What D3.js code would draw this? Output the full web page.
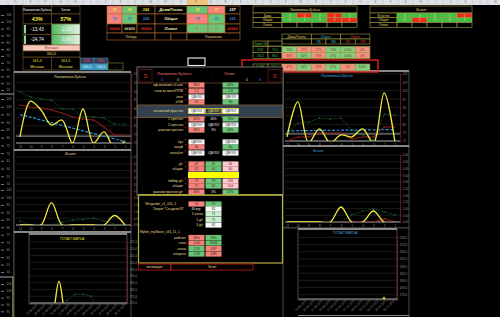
<!DOCTYPE html>
<html>
<head>
<meta charset="utf-8">
<script src="https://cdn.jsdelivr.net/npm/d3@7"></script>
<style>
  html, body { margin: 0; padding: 0; background: #000; overflow: hidden; }
  svg { display: block; }
  text { font-family: "Liberation Sans", Arial, sans-serif; }
</style>
</head>
<body>
<div id="chart"></div>
<script>
// ---------- chart data ----------
var rounds = ["11", "10", "9", "8", "7", "6", "5", "4", "3", "2", "1"];
var matchDates = ["13.08.2011", "20.08.2011", "27.08.2011", "10.09.2011", "17.09.2011", "24.09.2011",
                  "01.10.2011", "08.10.2011", "15.10.2011", "22.10.2011", "29.10.2011", "05.11.2011"];

var leftLokGoals = [75.5, 96.3, 91.1, 82.4, 85.3, 72, 91.7, 72, 78.4, 69.1, 73.2];
var leftLokTotal = [101.6, 98.7, 97.5, 96.9, 91.7, 91.7, 87.1, 87.1, 86.5, 83, 83];
var leftLokAvg = [94, 92.9, 92.3, 91.1, 89.4, 87.1, 85.9, 85.3, 81.3, 76.6, 76.6];
var leftLokLine = 76;

var leftZenGoals = [0, 0, 0, 1.65, 0, 0, 0, 0, 0, 0.7, 0];
var leftZenTotal = [0.3, 0, 0, 0, 0.2, 0.35, 0.4, 0.5, 0.3, 0.05, 0];

var leftTotalGoals = [160, 160, 160, 186, 160, 160, 160, 160, 160, 160, 160, 160];
var leftTotalAvg = [160, 160, 160, 160, 172, 176.5, 176.5, 175, 165, 160, 160, 160];

var rightLokGoals = [74.4, 95.3, 71, 79.2, 71, 75.6, 74.4, 79.2, 71, 100.7, 71];
var rightLokTotal = [76, 82.7, 83.3, 85.7, 85.1, 85.7, 78.6, 75.6, 72.6, 88.1, 87.5];
var rightLokAvg = [72, 74.4, 74.4, 76.8, 76.8, 76.8, 73.2, 74.4, 74.4, 80.4, 80.4];
var rightLokLine = 76.2;

var rightZenGoals = [0, 0, 0, 0, 0, 1.12, 0, 0, 0.82, 0, 0];
var rightZenTotal = [0, 0, 0, 0, 0, 0, 0.55, 0.8, 0.97, 0.75, 0.52];
var rightZenAvg = [0, 0, 0, 0, 0, 0, 0, 0, 0, 0.25, 0];

var rightTotalGoals = [null, null, null, null, null, null, null, null, null, null, 175, null];

var lokTicks = [72, 77, 82, 87, 92, 97, 102, 107, 112];
var zenTicks = [0, 0.5, 1, 1.5, 2, 2.5, 3, 3.5, 4, 4.5, 5];
var leftTotalTicks = [170, 175, 180, 185, 190, 195, 200, 205, 210, 215];
var rightTotalTicks = [178, 183, 188, 193, 198, 203, 208, 213, 218];
var stripTicks = [105, 100, 95, 90, 85, 80, 75, 70, 65, 60, 55, 50];

// ---------- table data ----------
var teams = ["Локомотив-Кубань", "Зенит"];
var winShare = ["43%", "57%"];
var ratingA = ["-13,43", "-2,29"];
var ratingB = ["-24,74", "-3,99"];
var totalVerdict = "Меньше";
var totalLine = "161,5";
var teamTotals = ["161,5", "161,5"];
var teamVerdicts = ["Меньше", "Меньше"];
var smallShares = ["50%", "50%"];
var smallTotals = ["161,5", "161,5"];

var pointsRows = ["Дома/Гости", "Общие", "Очные"];
var pointsLok = [["78", "82", "162"], ["78", "82", "164"], ["#####", "#####", "#####"]];
var pointsZen = [["82", "77", "157"], ["78", "80", "163"], ["0", "0", "#####"]];
var pointsFoot = ["Победа", "Поражение"];

var formRowsLok = ["Дома", "Общие", "Очные"];
var formLok = [[3, 0, 3, 0, 3], [3, 3, 3, 0, 0], []];
var formRowsZen = ["В гостях", "Общие", "Очные"];
var formZen = [[3, 3, 3, 3, 0], [3, 0, 3, 3, 3], []];

var shareGroups = ["Дома/Гости", "Общие", "Очные"];
var shareSub = ["ПБ", "ПМ", "ПБ", "ПМ"];
var seasons = ["2011", "2012", "TOTAL"];
var seasonLines = ["75,5", "88,5", "151,5"];
var seasonShares = [["73%", "27%", "27%", "73%", "100%", "0%"],
                    ["40%", "60%", "33%", "67%", "100%", "0%"],
                    ["47%", "53%", "33%", "67%", "0%", "100%"]];

var headerCounts = ["8", "0", "0", "8"];
var statRows = [
  ["кф-величия-сб-клб", "36%", "", "64%"],
  ["очки за матч/ППМ", "1,1", "", "1,8"],
  ["элко", "#ДЕЛ/0!", "", "#ДЕЛ/0!"],
  ["xG/B", "75", "", "80"],
  ["основной прогноз", "#ДЕЛ/0!", "#ДЕЛ/0!", "#ДЕЛ/0!"],
  ["1 прогноз", "40%", "34%", "74%"],
  ["2 прогноз", "#ДЕЛ/0!", "#ДЕЛ/0!", "#ДЕЛ/0!"],
  ["равном прогноз", "36%", "3%", "64%"],
  ["бук", "#ДЕЛ/0!", "", "#ДЕЛ/0!"],
  ["калуй", "40", "", "60"],
  ["матчбет", "#ДЕЛ/0!", "#ДЕЛ/0!", "#ДЕЛ/0!"],
  ["д/г", "41", "42", "61"],
  ["общие", "42", "40", "60"],
  ["bdtbqt д/г", "73", "79", "149"],
  ["общие", "72", "82", "154"],
  ["равном прогноз д/г", "36%", "3%", "67%"]
];
var modelNames = ["Wingardet_v1_010_1", "Mybet_mySkore_v16_11_1"];
var wingMain = ["55", "57"];
var wingSubLabels = ["Тоорит \"Сендеил19\"", "3 очков", "1 д/г", "3 д/г"];
var wingSubValues = ["82", "71", "71", "82"];
var wingGames = "40 игр";
var mybetLabels = ["рейтинг", "голы", "атака", "оборона"];
var mybetLok = ["18%", "-0,50", "1,13", "1,03"];
var mybetZen = ["25%", "13,65", "0,87", "0,89"];
var footer = ["мотивация", "Зенит"];

// ---------- helpers ----------
var RED = "#f4837b", GREEN = "#6cc477", PINK = "#ffc7ce", LGREEN = "#c6efce";
var svg = d3.select("#chart").append("svg").attr("width", 500).attr("height", 317);
svg.append("rect").attr("width", 500).attr("height", 317).attr("fill", "#000");

function num(t) { return parseFloat(String(t).replace(",", ".").replace("%", "")); }

function addText(g, x, y, t, o) {
  o = o || {};
  return g.append("text").attr("x", x).attr("y", y).text(t)
    .attr("font-size", o.size || 4)
    .attr("fill", o.fill || "#fff")
    .attr("text-anchor", o.anchor || "middle")
    .attr("dominant-baseline", "central")
    .attr("font-weight", o.bold ? "bold" : null)
    .attr("font-style", o.italic ? "italic" : null);
}

function addCell(g, x, y, w, h, t, fill, color, o) {
  o = o || {};
  g.append("rect").attr("x", x).attr("y", y).attr("width", w).attr("height", h)
    .attr("fill", fill).attr("stroke", o.stroke || "none").attr("stroke-width", o.sw || 0.6);
  if (t !== undefined && t !== null && t !== "")
    addText(g, x + w / 2, y + h / 2 + 0.2, t, { size: o.size, fill: color, bold: o.bold, italic: o.italic });
}

function trend(vals) {
  var xs = d3.range(vals.length);
  var mx = d3.mean(xs), my = d3.mean(vals);
  var b = d3.sum(xs, function(i) { return (i - mx) * (vals[i] - my); }) /
          d3.sum(xs, function(i) { return (i - mx) * (i - mx); });
  return xs.map(function(i) { return my + b * (i - mx); });
}

var clipId = 0;
function lineChart(c) {
  var g = svg.append("g");
  g.append("rect").attr("x", c.box[0]).attr("y", c.box[1]).attr("width", c.box[2]).attr("height", c.box[3])
    .attr("fill", "#000").attr("stroke", "#5a5a5a").attr("stroke-width", 0.8);
  g.append("line").attr("x1", c.box[0]).attr("x2", c.box[0] + c.box[2]).attr("y1", c.box[1]).attr("y2", c.box[1])
    .attr("stroke", "#a9a9a9").attr("stroke-width", 1.6);

  var x = d3.scalePoint().domain(c.cats).range([c.plot[0], c.plot[1]]);
  var y = d3.scaleLinear().domain(c.domain).range([c.plot[3], c.plot[2]]);

  g.append("g").selectAll("line").data(c.ticks).join("line")
    .attr("x1", c.gridX[0]).attr("x2", c.gridX[1])
    .attr("y1", function(d) { return y(d); }).attr("y2", function(d) { return y(d); })
    .attr("stroke", "#2e2e2e").attr("stroke-width", 0.6);

  var ay = g.append("g").attr("transform", "translate(" + c.gridX[1] + ",0)")
    .call(d3.axisRight(y).tickValues(c.ticks).tickSize(1.5).tickPadding(1.2).tickFormat(c.fmt));
  ay.select(".domain").attr("stroke", "#7a1c1c").attr("stroke-width", 0.8);
  ay.selectAll(".tick line").attr("stroke", "#7a1c1c");
  ay.selectAll("text").attr("font-size", 3).attr("fill", "#8e8e8e").attr("font-family", "Liberation Sans, Arial, sans-serif");

  var ax = g.append("g").attr("transform", "translate(0," + c.plot[3] + ")")
    .call(d3.axisBottom(x).tickSize(0).tickPadding(c.dates ? 2 : 2.5));
  ax.select(".domain").attr("stroke", "#b4b4b4").attr("stroke-width", 0.9)
    .attr("d", "M" + c.gridX[0] + ",0H" + c.gridX[1]);
  ax.selectAll("text").attr("font-size", 3).attr("fill", "#8e8e8e").attr("font-family", "Liberation Sans, Arial, sans-serif");
  if (c.dates) {
    ax.selectAll("text").attr("text-anchor", "end").attr("dy", "0.3em")
      .attr("transform", "rotate(-45)");
  }

  addText(g, c.title[0], c.title[1], c.titleText, { size: 3.6, fill: c.titleColor, italic: true });

  var id = "clip" + (clipId++);
  g.append("clipPath").attr("id", id).append("rect")
    .attr("x", c.gridX[0]).attr("y", c.plot[2] - 2).attr("width", c.gridX[1] - c.gridX[0])
    .attr("height", c.plot[3] - c.plot[2] + 2);
  var p = g.append("g").attr("clip-path", "url(#" + id + ")");

  if (c.baseline !== undefined) {
    p.append("line").attr("x1", c.gridX[0]).attr("x2", c.gridX[1])
      .attr("y1", y(c.baseline)).attr("y2", y(c.baseline))
      .attr("stroke", "#9a9a9a").attr("stroke-width", 1);
  }

  c.series.forEach(function(s) {
    var line = d3.line()
      .defined(function(d) { return d !== null; })
      .x(function(d, i) { return x(c.cats[i]); })
      .y(function(d) { return y(d); })
      .curve(s.smooth ? d3.curveCatmullRom.alpha(0.5) : d3.curveLinear);
    p.append("path").attr("d", line(s.values)).attr("fill", "none")
      .attr("stroke", s.color).attr("stroke-width", s.width)
      .attr("stroke-dasharray", s.dash || null);
    if (s.marker) {
      var pts = s.values.map(function(v, i) { return [i, v]; }).filter(function(d) { return d[1] !== null; });
      p.selectAll(null).data(pts).join("rect")
        .attr("x", function(d) { return x(c.cats[d[0]]) - s.marker / 2; })
        .attr("y", function(d) { return y(d[1]) - s.marker / 2; })
        .attr("width", s.marker).attr("height", s.marker).attr("fill", s.color);
    }
    if (s.triangle) {
      var tp = s.values.map(function(v, i) { return [i, v]; }).filter(function(d) { return d[1] !== null; });
      p.selectAll(null).data(tp).join("path")
        .attr("d", d3.symbol(d3.symbolTriangle, 10))
        .attr("transform", function(d) { return "translate(" + x(c.cats[d[0]]) + "," + y(d[1]) + ")"; })
        .attr("fill", s.color);
    }
  });
  return g;
}

function roundSeries(goals, total, avg, withTrend) {
  var s = [];
  if (avg) s.push({ values: avg, color: "#8b1a1a", width: 1.1, marker: 1.2 });
  s.push({ values: total, color: "#1f7a35", width: 0.8, dash: "1,1", marker: 1.2 });
  if (withTrend) s.push({ values: trend(goals), color: "#2a8fd6", width: 1.2, dash: "3,1.5" });
  s.push({ values: goals, color: "#f2ea3c", width: 1.3, smooth: true });
  return s;
}

var fmtInt = d3.format("d");
var fmtDec = function(d) { return d3.format(".2f")(d).replace(".", ","); };
var fmtOne = function(d) { return d3.format(".1f")(d).replace(".", ","); };

// ---------- spreadsheet column header ----------
svg.append("rect").attr("x", 0).attr("y", 0).attr("width", 500).attr("height", 5).attr("fill", "#dde1e6");
svg.append("rect").attr("x", 187).attr("y", 0).attr("width", 21).attr("height", 5).attr("fill", "#f3c27a");
var colEdges = d3.range(8, 500, 15);
svg.append("g").selectAll("line").data(colEdges).join("line")
  .attr("x1", function(d) { return d; }).attr("x2", function(d) { return d; })
  .attr("y1", 0).attr("y2", 5).attr("stroke", "#b8bec6").attr("stroke-width", 0.5);
svg.append("g").selectAll("text").data(colEdges).join("text")
  .attr("x", function(d) { return d + 7.5; }).attr("y", 3.2).attr("font-size", 2.6)
  .attr("text-anchor", "middle").attr("fill", "#777")
  .text(function(d, i) { return String.fromCharCode(68 + (i % 23)); });

// ---------- left strip (axis of a chart further left) ----------
var strip = svg.append("g");
[[15, 90], [99, 184], [190, 272], [284, 359]].forEach(function(r) {
  var ys = d3.scaleLinear().domain([105, 50]).range(r);
  var shown = stripTicks.filter(function(v) { return ys(v) < 313; });
  var a = strip.append("g").attr("transform", "translate(1,0)")
    .call(d3.axisRight(ys).tickValues(shown).tickSize(3).tickPadding(2.5));
  a.select(".domain").remove();
  a.selectAll(".tick line").attr("stroke", "#777");
  a.selectAll("text").attr("font-size", 3).attr("fill", "#9a9a9a");
});
strip.append("line").attr("x1", 14).attr("x2", 14).attr("y1", 5).attr("y2", 317).attr("stroke", "#4a4a4a").attr("stroke-width", 1);
strip.append("line").attr("x1", 0).attr("x2", 14).attr("y1", 94).attr("y2", 94).attr("stroke", "#8a8a8a").attr("stroke-width", 1.2);
strip.append("line").attr("x1", 0).attr("x2", 14).attr("y1", 277).attr("y2", 277).attr("stroke", "#8a8a8a").attr("stroke-width", 1.2);
strip.append("line").attr("x1", 13).attr("x2", 13).attr("y1", 277).attr("y2", 317).attr("stroke", "#8a8a3a").attr("stroke-width", 1.5);

// ---------- charts ----------
lineChart({ box: [14, 72, 117, 78], plot: [20, 125, 74, 143], gridX: [16, 131], cats: rounds,
  domain: [72, 112], ticks: lokTicks, fmt: fmtInt, title: [70, 77], titleText: "Локомотив-Кубань",
  titleColor: "#e6dc8c", baseline: leftLokLine, series: roundSeries(leftLokGoals, leftLokTotal, leftLokAvg, true) });
lineChart({ box: [14, 150, 117, 82], plot: [20, 125, 157, 225], gridX: [16, 131], cats: rounds,
  domain: [0, 5], ticks: zenTicks, fmt: fmtDec, title: [70, 154], titleText: "Зенит",
  titleColor: "#e6dc8c", series: roundSeries(leftZenGoals, leftZenTotal, null, false) });
svg.append("rect").attr("x", 14).attr("y", 232).attr("width", 117).attr("height", 90)
  .attr("fill", "#000").attr("stroke", "#5a5a5a").attr("stroke-width", 0.8);
svg.append("line").attr("x1", 14).attr("x2", 131).attr("y1", 232).attr("y2", 232).attr("stroke", "#a9a9a9").attr("stroke-width", 1.4);
lineChart({ box: [29, 234, 98, 70], plot: [35, 123, 242, 303], gridX: [30, 127], cats: matchDates, dates: true,
  domain: [170, 215], ticks: leftTotalTicks, fmt: fmtOne, title: [72, 238.5], titleText: "ТОТАЛ МАТЧА",
  titleColor: "#e8e030",
  series: [{ values: leftTotalAvg, color: "#1f7a35", width: 0.8, dash: "1,1", marker: 1.2 },
           { values: leftTotalGoals, color: "#f2ea3c", width: 1.3, smooth: true }] });

lineChart({ box: [283, 71, 126, 77], plot: [287, 395, 74, 141], gridX: [285, 400], cats: rounds,
  domain: [72, 112], ticks: lokTicks, fmt: fmtInt, title: [337, 75.5], titleText: "Локомотив-Кубань",
  titleColor: "#4aa8d8", baseline: rightLokLine, series: roundSeries(rightLokGoals, rightLokTotal, rightLokAvg, true) });
lineChart({ box: [283, 146, 126, 82], plot: [287, 395, 155, 222], gridX: [285, 400], cats: rounds,
  domain: [0, 5], ticks: zenTicks, fmt: fmtDec, title: [318, 151], titleText: "Зенит",
  titleColor: "#4aa8d8", series: roundSeries(rightZenGoals, rightZenTotal, rightZenAvg, false) });
svg.append("rect").attr("x", 283).attr("y", 228).attr("width", 126).attr("height", 92)
  .attr("fill", "#000").attr("stroke", "#5a5a5a").attr("stroke-width", 0.8);
lineChart({ box: [298, 229, 99, 71], plot: [304, 392, 236, 299], gridX: [299, 397], cats: matchDates, dates: true,
  domain: [175, 219], ticks: rightTotalTicks, fmt: fmtOne, title: [345, 233], titleText: "ТОТАЛ МАТЧА",
  titleColor: "#4aa8d8",
  series: [{ values: rightTotalGoals, color: "#f2ea3c", width: 1.3, triangle: true }] });
svg.append("line").attr("x1", 298).attr("x2", 409).attr("y1", 315.5).attr("y2", 315.5).attr("stroke", "#8a8a8a").attr("stroke-width", 1);

// ---------- top-left summary table ----------
var tl = svg.append("g");
var defs = svg.append("defs");
var gr = defs.append("linearGradient").attr("id", "gGreen");
gr.append("stop").attr("offset", "0%").attr("stop-color", "#4fb861");
gr.append("stop").attr("offset", "100%").attr("stop-color", "#e4f4e6");
var B = "#7a5c2c";
teams.forEach(function(t, i) {
  var x = 23 + i * 28.5;
  addCell(tl, x, 6, 28.5, 8, t, "#000", "#f0f0f0", { stroke: B, size: 3.4 });
  addCell(tl, x, 14, 28.5, 10, winShare[i], "#000", "#f2e23a", { stroke: B, size: 5.5, bold: true, italic: true });
  addCell(tl, x, 24, 28.5, 10.5, ratingA[i], i ? "url(#gGreen)" : "#000", "#f4f4f4", { stroke: B, size: 4.6 });
  addCell(tl, x, 34.5, 28.5, 10.5, ratingB[i], i ? "url(#gGreen)" : "#000", "#f4f4f4", { stroke: B, size: 4.6 });
  if (!i) {
    tl.append("rect").attr("x", x + 1).attr("y", 25).attr("width", 2).attr("height", 8.5).attr("fill", "#8fd59a");
    tl.append("rect").attr("x", x + 1).attr("y", 35.5).attr("width", 2).attr("height", 8.5).attr("fill", "#8fd59a");
  }
  addCell(tl, x, 57, 28.5, 13, "", "#000", "#fff", { stroke: B });
  addText(tl, x + 14.25, 61, teamTotals[i], { size: 3.8, fill: "#f2e23a" });
  addText(tl, x + 14.25, 66.5, teamVerdicts[i], { size: 3.6, fill: "#f2e23a" });
  addCell(tl, 80 + i * 14, 58, 14, 6, smallShares[i], "#2e3d5e", "#ff4040", { stroke: "#4a8aa8", size: 3.4 });
  addCell(tl, 80 + i * 14, 64, 14, 6, smallTotals[i], "#3a9cc4", "#f0f0f0", { stroke: "#4a8aa8", size: 3.4 });
});
addCell(tl, 23, 45, 57, 6, totalVerdict, "#f7c6bd", "#a03030", { stroke: B, size: 3.6 });
addCell(tl, 23, 51, 57, 6, totalLine, "#000", "#f2e23a", { stroke: B, size: 3.8 });
addCell(tl, 108, 63, 15, 7, "-", "#000", "#f0f0f0", { stroke: "#8a8a3a", size: 4 });

// ---------- top-middle points table ----------
var tm = svg.append("g");
var O = "#b8682e";
var pRowY = [6, 14, 24, 33];
var pRowH = [8, 10, 9, 7];
var lokColX = [107, 122, 137], lokColW = [15, 15, 18];
var zenColX = [187, 208, 225], zenColW = [21, 17, 15];
var rowTextColor = ["#f2e23a", "#3a7ad8", "#ff3030"];
function pointsFill(t, j) {
  if (j === 2 || t.indexOf("#") === 0) return "#000";
  return j === 0 ? RED : GREEN;
}
pointsRows.forEach(function(r, i) {
  var y = pRowY[i], h = pRowH[i];
  pointsLok[i].forEach(function(t, j) {
    var col = t.indexOf("#") === 0 ? (j === 1 ? "#f4eec0" : "#ff3030") : rowTextColor[i];
    addCell(tm, lokColX[j], y, lokColW[j], h, t, pointsFill(t, j), col, { stroke: O, size: 3.8, bold: true, italic: true });
  });
  addCell(tm, 155, y, 32, h, r, "#000", "#fff6c0", { stroke: O, size: 3.8, bold: true, italic: true });
  pointsZen[i].forEach(function(t, j) {
    var fill = j === 2 ? "#000" : (i === 2 ? GREEN : (num(t) >= num(pointsZen[i][1 - j]) ? GREEN : RED));
    var col = t.indexOf("#") === 0 ? "#ff3030" : (i === 2 ? "#e06020" : rowTextColor[i]);
    if (i === 0 && j === 2) col = "#f0f0f0";
    addCell(tm, zenColX[j], y, zenColW[j], h, t, fill, col, { stroke: O, size: 3.8, bold: true, italic: true });
  });
});
addCell(tm, 107, 33, 48, 7, pointsFoot[0], "#000", "#e8d890", { stroke: O, size: 3.2 });
addCell(tm, 155, 33, 16, 7, "", "#000", "#fff", { stroke: O });
addCell(tm, 171, 33, 16, 7, "", "#000", "#fff", { stroke: O });
addCell(tm, 187, 33, 53, 7, pointsFoot[1], "#000", "#e8d890", { stroke: O, size: 3.2 });

// ---------- top-right form tables ----------
var fr = svg.append("g");
var Y = "#a8a040";
function formTable(x0, labW, title, rows, vals) {
  addCell(fr, x0, 6, labW + 75, 7, title, "#000", "#e8d870", { stroke: Y, size: 3.4, italic: true });
  rows.forEach(function(r, i) {
    var y = 13 + i * 4.8;
    addCell(fr, x0, y, labW, 4.8, r, "#000", "#e8d870", { stroke: Y, size: 3 });
    d3.range(5).forEach(function(j) {
      var v = vals[i][j];
      var fill = v === undefined ? "#000" : (v > 0 ? "#3fbf4a" : "#ee2a1e");
      addCell(fr, x0 + labW + j * 15, y, 15, 4.8, v === undefined ? "" : String(v), fill, "#e8e070", { stroke: Y, size: 3 });
    });
  });
}
formTable(253, 29, teams[0], formRowsLok, formLok);
formTable(370, 27, teams[1], formRowsZen, formZen);

// ---------- season shares table ----------
var st = svg.append("g");
var groupColor = ["#e8d870", "#30a8c8", "#e03020"];
shareGroups.forEach(function(gname, i) {
  addCell(st, 282 + i * 29.3, 34, 29.3, 5, gname, "#000", groupColor[i], { stroke: Y, size: 3.2, italic: true });
});
shareSub.forEach(function(s, i) {
  addCell(st, 311.3 + i * 14.65, 39, 14.65, 5, s, "#000", i < 2 ? "#40b8c8" : "#e03020", { stroke: Y, size: 3 });
});
addCell(st, 282, 39, 29.3, 5, "", "#000", "#fff", { stroke: Y });
addCell(st, 253, 41, 15, 5, "Линия ТБ", "#000", "#40c050", { stroke: Y, size: 2.8 });
addCell(st, 268, 41, 14, 5, "", "#000", "#fff", { stroke: Y });
seasons.forEach(function(s, i) {
  var y = i < 2 ? 46.5 + i * 6 : 64;
  var h = i < 2 ? 6 : 6.5;
  addCell(st, 253, y, 15, h, s, "#000", "#40c050", { stroke: Y, size: 3 });
  addCell(st, 268, y, 14, h, seasonLines[i], "#000", "#40c050", { stroke: Y, size: 3 });
  seasonShares[i].forEach(function(v, j) {
    var fill = num(v) > 50 ? "#7fcf80" : "#f49080";
    addCell(st, 282 + j * 14.65, y, 14.65, h, v, fill, "#7a3a1a", { stroke: Y, size: 3 });
  });
});
svg.append("rect").attr("x", 242).attr("y", 60).attr("width", 136).attr("height", 12)
  .attr("fill", "none").attr("stroke", "#e02222").attr("stroke-width", 1.4);
svg.append("rect").attr("x", 188).attr("y", 58).attr("width", 17).attr("height", 7.5)
  .attr("fill", "none").attr("stroke", "#f0f0f0").attr("stroke-width", 1.1);

// ---------- center panel ----------
var cp = svg.append("g");
cp.append("rect").attr("x", 137).attr("y", 67).attr("width", 146).attr("height", 128)
  .attr("fill", "#000").attr("stroke", "#8a8a8a").attr("stroke-width", 0.8);
cp.append("rect").attr("x", 138.5).attr("y", 195).attr("width", 144).attr("height", 68)
  .attr("fill", "#000").attr("stroke", "#b8b040").attr("stroke-width", 1.2);
addCell(cp, 139, 69.5, 13, 12.5, "S", "#000", "#e03030", { stroke: "#7a2020", size: 5.5 });
addCell(cp, 268, 69.5, 13, 12.5, "S", "#000", "#e03030", { stroke: "#7a2020", size: 5.5 });
addText(cp, 157, 73, teams[0], { size: 4, fill: "#e87878", anchor: "start" });
addText(cp, 212, 73, "-", { size: 4, fill: "#e87878" });
addText(cp, 224, 73, teams[1], { size: 4, fill: "#e87878", anchor: "start" });
[162, 178, 247, 260].forEach(function(xx, i) {
  addText(cp, xx, 79.5, headerCounts[i], { size: 3.6, fill: i === 1 || i === 2 ? "#e8d870" : "#4a6cf0" });
});
cp.append("line").attr("x1", 137).attr("x2", 283).attr("y1", 83).attr("y2", 83).attr("stroke", "#6b4a2a").attr("stroke-width", 0.8);

var statY = [85, 91, 97, 102, 111, 119, 125, 130, 142, 147, 153, 164, 169, 181, 186, 192];
var cellX = [188, 205, 222], cellW = 17;
cp.append("rect").attr("x", 137.5).attr("y", 105).attr("width", 145).attr("height", 12.5)
  .attr("fill", "#33404f").attr("stroke", "#7a5a30").attr("stroke-width", 0.9);
cp.append("rect").attr("x", 188).attr("y", 172).attr("width", 51).attr("height", 6).attr("fill", "#ffff00");

statRows.forEach(function(r, i) {
  var y = statY[i];
  var main = r[0] === "основной прогноз";
  addText(cp, 183, y, r[0], { size: main ? 3.6 : 3.4, fill: "#e8dc90", anchor: "end" });
  cp.append("path").attr("d", "M184.5," + (y - 2.8) + "l1.6,0l0,1.6z").attr("fill", "#e02020");
  var vals = r.slice(1);
  var isPct = String(vals[0]).indexOf("%") > 0;
  var three = vals[1] !== "";
  vals.forEach(function(t, j) {
    if (t === "") return;
    var fill, col = "#3a1010", stroke = "none";
    if (t.indexOf("#") === 0) {
      fill = (j === 1) ? "#000" : "#fafafa"; col = j === 1 ? "#f0f0f0" : "#222";
      if (main) { stroke = "#e8d840"; col = j === 1 ? "#f2e23a" : "#222"; fill = j === 1 ? "#33404f" : "#fafafa"; }
    } else if (three && isPct) {
      fill = j === 0 ? RED : (j === 1 ? "#000" : GREEN); col = j === 1 ? "#f0f0f0" : "#1a1a1a";
    } else if (three) {
      fill = j === 0 ? RED : (j === 1 ? GREEN : PINK); col = "#5a1010";
    } else {
      fill = num(t) >= num(vals[2 - j]) ? GREEN : RED; col = "#1a1a1a";
    }
    addCell(cp, cellX[j] + 0.5, y - 2.6, cellW - 1, 5.2, t, fill, col, { stroke: stroke, sw: 0.7, size: 3.2 });
  });
});
cp.append("line").attr("x1", 138.5).attr("x2", 282.5).attr("y1", 195).attr("y2", 195).attr("stroke", "#c8c040").attr("stroke-width", 1.2);

// lower models block
addText(cp, 145, 204, modelNames[0], { size: 3.3, fill: "#e8dc90", anchor: "start" });
wingMain.forEach(function(t, j) {
  var fill = num(t) >= num(wingMain[1 - j]) ? GREEN : RED;
  addCell(cp, cellX[j] + 0.5, 201.4, cellW - 1, 5.2, t, fill, "#1a1a1a", { size: 3.2 });
});
var wingY = [209, 214, 219.5, 225];
var wingMax = d3.max(wingSubValues, num);
wingSubLabels.forEach(function(l, i) {
  addText(cp, i === 0 ? 184 : 203, wingY[i], l, { size: 3.3, fill: "#e8dc90", anchor: "end" });
  var v = wingSubValues[i];
  addCell(cp, cellX[1] + 0.5, wingY[i] - 2.6, cellW - 1, 5.2, v, num(v) === wingMax ? "#fafafa" : LGREEN, "#1a1a1a", { size: 3.2 });
});
addText(cp, 196, 209, wingGames, { size: 3.2, fill: "#f0f0f0" });
addText(cp, 140, 232, modelNames[1], { size: 3.3, fill: "#e8dc90", anchor: "start" });
var mbY = [237.5, 243, 248.5, 254];
mybetLabels.forEach(function(l, i) {
  addText(cp, 186, mbY[i], l, { size: 3.3, fill: "#e8dc90", anchor: "end" });
  var a = mybetLok[i], b = mybetZen[i];
  addCell(cp, cellX[0] + 0.5, mbY[i] - 2.6, cellW - 1, 5.2, a, num(a) >= num(b) ? GREEN : RED, "#1a1a1a", { size: 3.2 });
  addCell(cp, cellX[1] + 0.5, mbY[i] - 2.6, cellW - 1, 5.2, b, num(b) >= num(a) ? GREEN : RED, "#1a1a1a", { size: 3.2 });
});
addCell(cp, 138.5, 264, 32, 6, footer[0], "#000", "#e8dc90", { stroke: "#a01414", sw: 1, size: 3.2 });
addCell(cp, 171, 264, 82, 6, footer[1], "#000", "#e8dc90", { stroke: "#a01414", sw: 1, size: 3.2 });
</script>
</body>
</html>
